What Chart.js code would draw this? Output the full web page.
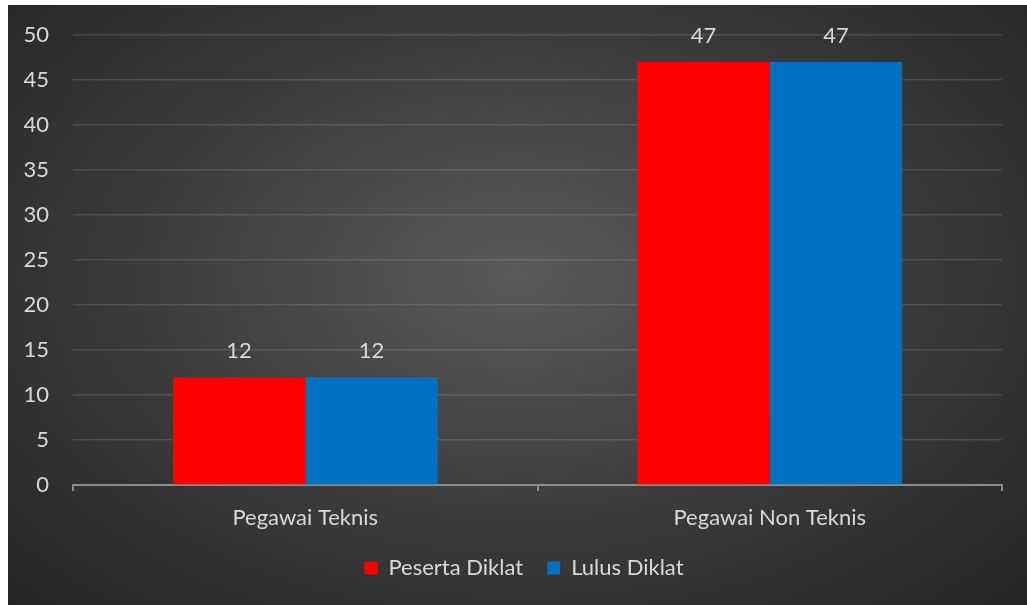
<!DOCTYPE html>
<html>
<head>
<meta charset="utf-8">
<script src="https://cdn.jsdelivr.net/npm/chart.js@4"></script>
<style>
    html, body { margin: 0; padding: 0; background: #ffffff; }
    #wrap {
        position: absolute;
        left: 8px; top: 5px;
        width: 1019px; height: 600px;
        background: radial-gradient(ellipse farthest-corner at 50% 45%, #5a5a5a 0%, #3a3a3a 55%, #252525 100%);
    }
</style>
</head>
<body>
<div id="wrap"><canvas id="diklatChart" width="1019" height="600"></canvas></div>
<script>
// Data
const categories = ['Pegawai Teknis', 'Pegawai Non Teknis'];
const seriesNames = ['Peserta Diklat', 'Lulus Diklat'];
const pesertaValues = [12, 47];
const lulusValues = [12, 47];
const yTicks = [0, 5, 10, 15, 20, 25, 30, 35, 40, 45, 50];

const textColor = '#d9d9d9';
const fontFamily = 'Lato, "Open Sans", sans-serif';
const fontSize = 22;

// Value labels drawn above each bar
const valueLabels = {
    id: 'valueLabels',
    afterDatasetsDraw: (chart) => {
        const { ctx } = chart;
        ctx.save();
        ctx.font = `${fontSize}px ${fontFamily}`;
        ctx.fillStyle = textColor;
        ctx.textAlign = 'center';
        ctx.textBaseline = 'middle';
        chart.data.datasets.forEach((ds, i) => {
            chart.getDatasetMeta(i).data.forEach((bar, j) => {
                ctx.fillText(String(ds.data[j]), bar.x, bar.y - 26);
            });
        });
        ctx.restore();
    }
};

// Legend sits a bit right of centre in the picture (centred on the plot area)
const legendShift = {
    id: 'legendShift',
    afterLayout: (chart) => {
        chart.legend.left += 19;
        chart.legend.right += 19;
    }
};

const ctx = document.getElementById('diklatChart').getContext('2d');
new Chart(ctx, {
    type: 'bar',
    data: {
        labels: categories,
        datasets: [
            {
                label: seriesNames[0],
                data: pesertaValues,
                backgroundColor: '#ff0000',
                borderWidth: 0
            },
            {
                label: seriesNames[1],
                data: lulusValues,
                backgroundColor: '#0070c0',
                borderWidth: 0
            }
        ]
    },
    options: {
        responsive: false,
        animation: false,
        categoryPercentage: 0.57,
        barPercentage: 1.0,
        layout: {
            padding: { left: 0, right: 25, top: 30, bottom: 16 }
        },
        plugins: {
            legend: {
                display: true,
                position: 'bottom',
                labels: {
                    color: textColor,
                    boxWidth: 13,
                    boxHeight: 13,
                    padding: 24, // wider gap between the two entries
                    font: { family: fontFamily, size: fontSize }
                }
            },
            tooltip: { enabled: false }
        },
        scales: {
            y: {
                min: 0,
                max: 50,
                afterBuildTicks: (scale) => {
                    scale.ticks = yTicks.map(v => ({ value: v }));
                },
                afterFit: (scale) => {
                    scale.width = 65; // fixed so the plot starts where the picture does
                    scale.paddingTop = 0; // top label may overhang the padding
                    scale.paddingBottom = 0;
                },
                grid: {
                    color: 'rgba(255,255,255,0.12)',
                    lineWidth: 1.5,
                    drawTicks: false
                },
                border: { display: false },
                ticks: {
                    color: textColor,
                    padding: 24,
                    font: { family: fontFamily, size: fontSize }
                }
            },
            x: {
                afterFit: (scale) => {
                    scale.height = 48;
                },
                grid: {
                    drawOnChartArea: false,
                    drawTicks: true,
                    tickLength: 6,
                    color: '#8c8c8c',
                    lineWidth: 2
                },
                border: { display: true, color: '#8c8c8c', width: 2 },
                ticks: {
                    color: textColor,
                    padding: 14,
                    font: { family: fontFamily, size: fontSize }
                }
            }
        }
    },
    plugins: [valueLabels, legendShift]
});
</script>
</body>
</html>
